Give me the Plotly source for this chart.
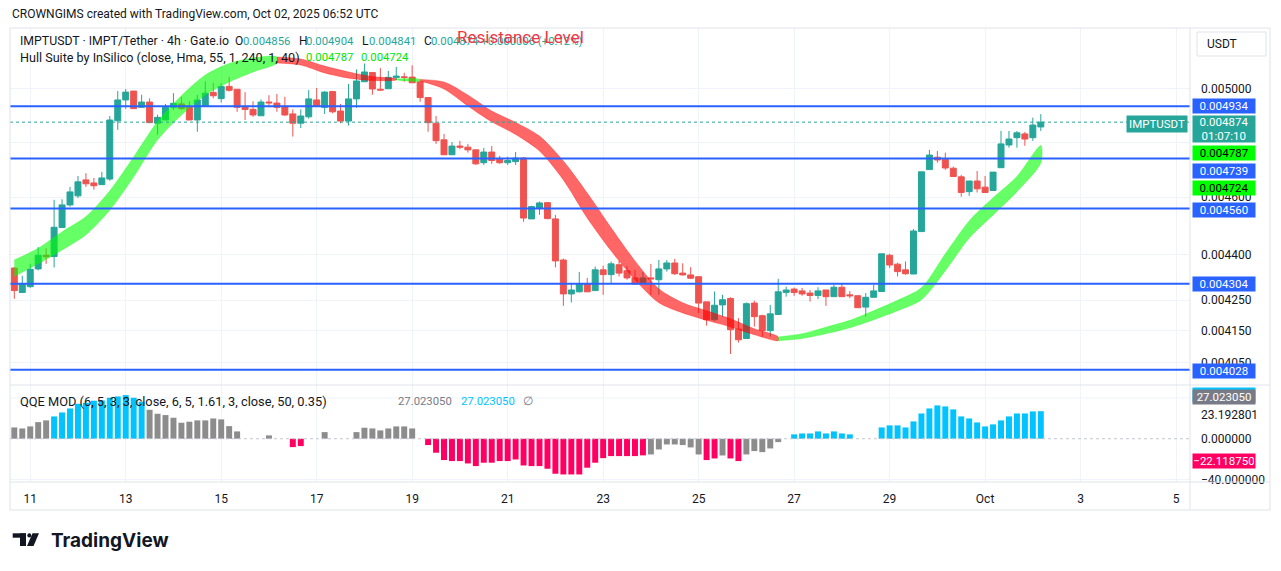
import plotly.graph_objects as go
import pandas as pd

# ------------------------------------------------------------------ data
candle_start = "2025-09-10 16:00"   # first 4h bar on the chart
opens = [0.004356, 0.004275, 0.004294, 0.004353, 0.004399, 0.004395, 0.004494, 0.004573, 0.004605, 0.004662,
         0.004651, 0.004645, 0.004665, 0.004879, 0.004958, 0.004992, 0.004930, 0.004950, 0.004870, 0.004882,
         0.004930, 0.004943, 0.004930, 0.004882, 0.004936, 0.004987, 0.004963, 0.005010, 0.004999, 0.004930,
         0.004922, 0.004898, 0.004950, 0.004946, 0.004934, 0.004905, 0.004870, 0.004894, 0.004958, 0.004930,
         0.004990, 0.004916, 0.004878, 0.004962, 0.005028, 0.005064, 0.004999, 0.005001, 0.005044, 0.005047,
         0.005046, 0.005028, 0.004967, 0.004870, 0.004808, 0.004753, 0.004785, 0.004781, 0.004771, 0.004724,
         0.004763, 0.004737, 0.004724, 0.004728, 0.004741, 0.004524, 0.004562, 0.004581, 0.004524, 0.004383,
         0.004270, 0.004277, 0.004303, 0.004281, 0.004350, 0.004334, 0.004367, 0.004347, 0.004323, 0.004306,
         0.004323, 0.004317, 0.004353, 0.004373, 0.004339, 0.004333, 0.004327, 0.004244, 0.004186, 0.004234,
         0.004255, 0.004156, 0.004126, 0.004240, 0.004199, 0.004151, 0.004203, 0.004275, 0.004286, 0.004280,
         0.004273, 0.004265, 0.004283, 0.004261, 0.004292, 0.004267, 0.004264, 0.004227, 0.004259, 0.004278,
         0.004399, 0.004369, 0.004350, 0.004336, 0.004480, 0.004699, 0.004744, 0.004737, 0.004704, 0.004673,
         0.004620, 0.004658, 0.004636, 0.004624, 0.004706, 0.004789, 0.004816, 0.004830, 0.004816, 0.004856]
highs = [0.004359, 0.004330, 0.004370, 0.004427, 0.004423, 0.004591, 0.004593, 0.004637, 0.004676, 0.004686,
         0.004669, 0.004691, 0.004897, 0.004992, 0.005000, 0.004992, 0.004978, 0.004964, 0.004902, 0.004943,
         0.004984, 0.004970, 0.004953, 0.004978, 0.005030, 0.005024, 0.005022, 0.005047, 0.004999, 0.004988,
         0.004953, 0.004960, 0.004976, 0.004981, 0.004970, 0.004922, 0.004922, 0.004996, 0.005004, 0.004992,
         0.004992, 0.004943, 0.005019, 0.005076, 0.005099, 0.005064, 0.005081, 0.005070, 0.005086, 0.005063,
         0.005092, 0.005028, 0.004967, 0.004897, 0.004830, 0.004800, 0.004804, 0.004793, 0.004773, 0.004778,
         0.004785, 0.004749, 0.004746, 0.004763, 0.004745, 0.004570, 0.004585, 0.004583, 0.004538, 0.004388,
         0.004306, 0.004343, 0.004323, 0.004361, 0.004364, 0.004378, 0.004380, 0.004363, 0.004350, 0.004343,
         0.004370, 0.004383, 0.004383, 0.004387, 0.004372, 0.004359, 0.004327, 0.004244, 0.004278, 0.004267,
         0.004259, 0.004191, 0.004242, 0.004248, 0.004202, 0.004234, 0.004320, 0.004294, 0.004291, 0.004290,
         0.004283, 0.004292, 0.004283, 0.004301, 0.004306, 0.004279, 0.004267, 0.004273, 0.004300, 0.004404,
         0.004404, 0.004374, 0.004378, 0.004489, 0.004691, 0.004771, 0.004767, 0.004761, 0.004710, 0.004680,
         0.004658, 0.004694, 0.004676, 0.004690, 0.004841, 0.004841, 0.004841, 0.004837, 0.004891, 0.004904]
lows = [0.004254, 0.004274, 0.004290, 0.004348, 0.004370, 0.004358, 0.004494, 0.004567, 0.004597, 0.004637,
        0.004627, 0.004645, 0.004659, 0.004845, 0.004924, 0.004925, 0.004930, 0.004872, 0.004827, 0.004882,
        0.004920, 0.004920, 0.004882, 0.004838, 0.004932, 0.004964, 0.004948, 0.004990, 0.004913, 0.004882,
        0.004894, 0.004898, 0.004930, 0.004913, 0.004897, 0.004820, 0.004852, 0.004887, 0.004935, 0.004905,
        0.004907, 0.004870, 0.004861, 0.004928, 0.005028, 0.004978, 0.004993, 0.005001, 0.005035, 0.005028,
        0.005024, 0.004951, 0.004838, 0.004793, 0.004753, 0.004753, 0.004773, 0.004761, 0.004716, 0.004716,
        0.004720, 0.004720, 0.004716, 0.004716, 0.004514, 0.004524, 0.004538, 0.004523, 0.004358, 0.004231,
        0.004242, 0.004275, 0.004277, 0.004281, 0.004267, 0.004306, 0.004328, 0.004317, 0.004300, 0.004306,
        0.004267, 0.004267, 0.004344, 0.004333, 0.004331, 0.004319, 0.004207, 0.004167, 0.004182, 0.004196,
        0.004077, 0.004113, 0.004126, 0.004164, 0.004132, 0.004132, 0.004203, 0.004261, 0.004264, 0.004264,
        0.004245, 0.004253, 0.004231, 0.004261, 0.004261, 0.004256, 0.004225, 0.004196, 0.004259, 0.004278,
        0.004356, 0.004328, 0.004333, 0.004336, 0.004480, 0.004699, 0.004724, 0.004698, 0.004674, 0.004602,
        0.004605, 0.004617, 0.004617, 0.004624, 0.004706, 0.004779, 0.004779, 0.004786, 0.004804, 0.004841]
closes = [0.004281, 0.004303, 0.004352, 0.004399, 0.004394, 0.004495, 0.004573, 0.004619, 0.004655, 0.004648,
          0.004641, 0.004669, 0.004882, 0.004958, 0.004988, 0.004925, 0.004950, 0.004872, 0.004892, 0.004930,
          0.004945, 0.004925, 0.004882, 0.004958, 0.004984, 0.004974, 0.005010, 0.004995, 0.004930, 0.004922,
          0.004901, 0.004950, 0.004947, 0.004930, 0.004901, 0.004870, 0.004897, 0.004962, 0.004935, 0.004988,
          0.004913, 0.004878, 0.004962, 0.005031, 0.005066, 0.005000, 0.004996, 0.005045, 0.005050, 0.005045,
          0.005024, 0.004967, 0.004872, 0.004805, 0.004753, 0.004785, 0.004781, 0.004771, 0.004720, 0.004763,
          0.004732, 0.004724, 0.004732, 0.004741, 0.004527, 0.004567, 0.004580, 0.004525, 0.004380, 0.004270,
          0.004283, 0.004302, 0.004277, 0.004350, 0.004334, 0.004370, 0.004339, 0.004323, 0.004303, 0.004323,
          0.004320, 0.004353, 0.004373, 0.004337, 0.004333, 0.004322, 0.004240, 0.004186, 0.004233, 0.004251,
          0.004154, 0.004122, 0.004238, 0.004196, 0.004151, 0.004205, 0.004277, 0.004283, 0.004275, 0.004270,
          0.004265, 0.004280, 0.004261, 0.004292, 0.004261, 0.004264, 0.004225, 0.004259, 0.004280, 0.004404,
          0.004366, 0.004344, 0.004337, 0.004482, 0.004691, 0.004752, 0.004734, 0.004705, 0.004674, 0.004617,
          0.004658, 0.004630, 0.004617, 0.004690, 0.004793, 0.004811, 0.004834, 0.004811, 0.004863, 0.004874]

# Hull Suite (MHULL and its 2-bar-lagged SHULL), read every 3rd bar
hull_main = [0.004383, 0.004423, 0.004479, 0.004532, 0.004623, 0.004745, 0.004876, 0.004974, 0.005054, 0.005099,
             0.005121, 0.005125, 0.005093, 0.005062, 0.005042, 0.005033, 0.005035, 0.005037, 0.005000, 0.004935,
             0.004875, 0.004828, 0.004767, 0.004662, 0.004527, 0.004414, 0.004317, 0.004241, 0.004208, 0.004184,
             0.004163, 0.004138, 0.004119, 0.004141, 0.004162, 0.004184, 0.004215, 0.004249, 0.004290, 0.004404,
             0.004517, 0.004598, 0.004674, 0.004787]
hull_lag = [0.004328, 0.004370, 0.004417, 0.004469, 0.004555, 0.004673, 0.004808, 0.004901, 0.004977, 0.005027,
            0.005066, 0.005101, 0.005117, 0.005089, 0.005066, 0.005048, 0.005039, 0.005031, 0.005027, 0.004977,
            0.004916, 0.004873, 0.004822, 0.004730, 0.004615, 0.004493, 0.004380, 0.004287, 0.004241, 0.004215,
            0.004189, 0.004157, 0.004131, 0.004126, 0.004141, 0.004160, 0.004186, 0.004215, 0.004251, 0.004347,
            0.004458, 0.004538, 0.004620, 0.004724]
hull_every = 3

# QQE MOD histogram and its state (u = above upper band, d = below lower band, n = neutral)
qqe_hist = [11.1, 10.1, 12.1, 16.3, 18.0, 21.9, 25.8, 29.7, 34.3, 35.3, 37.3, 37.6, 40.2, 41.5, 42.8, 40.2, 36.3,
            28.4, 24.5, 23.2, 20.6, 15.7, 16.7, 18.0, 18.0, 19.9, 19.0, 12.4, 7.2, 0, 0, 0, 3.3, 0, 0,
            -8.2, -7.2, 0, 0, 6.5, 0, 0, 0, 6.5, 10.8, 10.1, 8.2, 10.1, 12.1, 12.1, 10.1, 0,
            -6.2, -13.7, -20.9, -21.9, -21.9, -24.2, -26.8, -23.5, -23.5, -21.9, -21.9, -20.3, -26.2, -26.8,
            -26.8, -29.4, -34.3, -35.0, -35.0, -35.0, -28.4, -23.5, -19.0, -17.0, -17.0, -17.0, -17.0, -16.3,
            -15.4, -10.5, -5.6, -5.6, -6.2, -8.5, -15.4, -20.9, -19.3, -16.4, -19.3, -21.9, -15.4, -12.1, -13.1,
            -9.5, -3.3, 0, 4.3, 5.2, 5.2, 7.2, 5.2, 7.2, 5.2, 4.3, 0, 0, 0,
            11.1, 13.1, 13.1, 11.1, 17.0, 24.8, 29.7, 32.7, 31.7, 28.8, 21.9, 19.9, 16.0, 12.1, 14.1, 18.0,
            21.9, 24.8, 24.8, 26.8, 27.02305]
qqe_state = ("nnnnn" "uuuuuuuuuuuu" "nnnnnnnnnnnn" "nnn" "n" "nn" "dd" "nn" "n" "nnn" "nnnnnnnn" "n"
             "dddddddddddddddddddddddddddd" "nnnnnnn" "dd" "n" "dd" "nnnnn" "n" "uuuuuuuu" "nnn"
             "uuuuuuuuuuuuuuuuuuuuu")

levels = [0.004934, 0.004739, 0.004560, 0.004304, 0.004028]
price_ticks = [0.005, 0.0048, 0.0046, 0.0044, 0.00425, 0.00415, 0.00405]
price_tick_text = ["0.005000", "", "0.004600", "0.004400", "0.004250", "0.004150", "0.004050"]
qqe_ticks = [40, 23.192801, 0, -40]
qqe_tick_text = ["", "23.192801", "0.000000", "\u221240.000000"]
date_ticks = ["2025-09-11", "2025-09-13", "2025-09-15", "2025-09-17", "2025-09-19", "2025-09-21",
              "2025-09-23", "2025-09-25", "2025-09-27", "2025-09-29", "2025-10-01", "2025-10-03", "2025-10-05"]
date_tick_text = ["11", "13", "15", "17", "19", "21", "23", "25", "27", "29", "Oct", "3", "5"]
x_view = ["2025-09-10 13:50", "2025-10-05 07:00"]

# ------------------------------------------------------------------ styles
FONT = "Roboto"
TXT = "#131722"
UP, DOWN = "#26a69a", "#ef5350"
BLUE = "#2962ff"
GRID = "#f0f3fa"
FRAME = "#e0e3eb"
LIME = "#00ff00"
QQE_COL = {"u": "#00c3ff", "d": "#ff0062", "n": "#8c8c8c"}

W, H = 1281, 571
L, R, T, B = 10, 1190, 28, 482          # plot area in pixels
SPLIT = 385                             # pane separator


def PX(px):
    return (px - L) / (R - L)


def PY(py):
    return (B - py) / (B - T)


times = pd.date_range(candle_start, periods=len(opens), freq="4h")
hull_times = list(times[::hull_every])

fig = go.Figure()

# Hull band, coloured by direction (segment takes colour of its end point)
upper = [max(a, b) for a, b in zip(hull_main, hull_lag)]
lower = [min(a, b) for a, b in zip(hull_main, hull_lag)]
trend = ["g" if a > b else "r" for a, b in zip(hull_main, hull_lag)]
start = 0
for k in range(1, len(upper)):
    if k == len(upper) - 1 or trend[k + 1] != trend[k]:
        xs = hull_times[start:k + 1]
        col = "rgba(0,255,0,0.6)" if trend[k] == "g" else "rgba(255,0,0,0.6)"
        fig.add_trace(go.Scatter(
            x=xs + xs[::-1], y=upper[start:k + 1] + lower[start:k + 1][::-1],
            fill="toself", fillcolor=col, mode="lines",
            line=dict(color=col, width=0.5, shape="spline", smoothing=0.8),
            hoverinfo="skip", showlegend=False))
        start = k

# last price dotted line
fig.add_trace(go.Scatter(x=x_view, y=[closes[-1]] * 2, mode="lines",
                         line=dict(color=UP, width=1, dash="dot"), hoverinfo="skip", showlegend=False))

fig.add_trace(go.Candlestick(
    x=times, open=opens, high=highs, low=lows, close=closes,
    increasing=dict(line=dict(color=UP, width=1), fillcolor=UP),
    decreasing=dict(line=dict(color=DOWN, width=1), fillcolor=DOWN),
    whiskerwidth=0, hoverinfo="skip", showlegend=False))

# horizontal support / resistance lines
for lv in levels:
    fig.add_trace(go.Scatter(x=x_view, y=[lv, lv], mode="lines", line=dict(color=BLUE, width=2),
                             hoverinfo="skip", showlegend=False))

# QQE histogram
fig.add_trace(go.Bar(x=times, y=qqe_hist, yaxis="y2",
                     marker=dict(color=[QQE_COL[s] for s in qqe_state], line=dict(width=0)),
                     hoverinfo="skip", showlegend=False))

# ------------------------------------------------------------------ annotations
ann = []


def text(t, px, py, size=12, color=TXT, xanchor="left", **kw):
    ann.append(dict(text=t, x=PX(px), y=PY(py), xref="paper", yref="paper", xanchor=xanchor,
                    yanchor="middle", showarrow=False,
                    font=dict(family=FONT, size=size, color=color), **kw))


def box(t, py, bg, color="white", h=12):
    ann.append(dict(text=t, x=PX(1192), y=PY(py), xref="paper", yref="paper", xanchor="left",
                    yanchor="middle", showarrow=False, bgcolor=bg, width=60, height=h, borderpad=1,
                    align="center", font=dict(family=FONT, size=11.5, color=color)))


text("CROWNGIMS created with TradingView.com, Oct 02, 2025 06:52 UTC", 10, 14, size=12)
text("IMPTUSDT \u00b7 IMPT/Tether \u00b7 4h \u00b7 Gate.io", 18, 41, size=12.3)
text("O", 232.5, 41)
text(f"{opens[-1]:.6f}", 241, 41, size=11.3, color=UP)
text("H", 296.5, 41)
text(f"{highs[-1]:.6f}", 304, 41, size=11.3, color=UP)
text("L", 360, 41)
text(f"{lows[-1]:.6f}", 366.5, 41, size=11.3, color=UP)
text("C", 421.5, 41)
text(f"{closes[-1]:.6f} +0.000006 (+0.12%)", 428.5, 41, size=11.3, color=UP)
text("Resistance Level", 455, 37, size=17, color="#f23645")
text("Hull Suite by InSilico (close, Hma, 55, 1, 240, 1, 40)", 18, 58, size=12.6)
text(f"{hull_main[-1]:.6f}", 304, 58, size=11.3, color="#00e600")
text(f"{hull_lag[-1]:.6f}", 359, 58, size=11.3, color="#00e600")
text("QQE MOD (6, 5, 3, 3, close, 6, 5, 1.61, 3, close, 50, 0.35)", 18, 401, size=12.8)
text(f"{qqe_hist[-1]:.6f}", 396, 401, size=11.3, color="#787b86")
text(f"{qqe_hist[-1]:.6f}", 459, 401, size=11.3, color="#00c3ff")
text("\u2205", 521, 401, color="#787b86")

# price-scale labels
box(f"{levels[0]:.6f}", 105.8, BLUE)
box(f"{closes[-1]:.6f}<br>01:07:10", 129, UP, h=24)
box(f"{hull_main[-1]:.6f}", 153.3, LIME, color="black")
box(f"{levels[1]:.6f}", 170.5, BLUE)
box(f"{hull_lag[-1]:.6f}", 188, LIME, color="black")
box(f"{levels[2]:.6f}", 209.5, BLUE)
box(f"{levels[3]:.6f}", 284, BLUE)
box(f"{levels[4]:.6f}", 370.5, BLUE)
box(f"{qqe_hist[-1]:.6f}", 394.7, "#00c3ff")
box(f"{qqe_hist[-1]:.6f}", 396.7, "#787b86")
box("\u221222.118750", 461, "#ff0062")
ann.append(dict(text="IMPTUSDT", x=PX(1188), y=PY(123.7), xref="paper", yref="paper", xanchor="right",
                yanchor="middle", showarrow=False, bgcolor=UP, height=12, borderpad=2,
                font=dict(family=FONT, size=11.5, color="white")))
text("USDT", 1205, 44, size=12)
ann.append(dict(text="TradingView", x=PX(49), y=PY(540), xref="paper", yref="paper", xanchor="left",
                yanchor="middle", showarrow=False,
                font=dict(family="Inter", size=19, color=TXT, weight="bold")))

# ------------------------------------------------------------------ shapes (frame, grid, logo)
shapes = []


def pline(x0, y0, x1, y1, color=FRAME, width=1):
    shapes.append(dict(type="line", xref="paper", yref="paper", x0=PX(x0), y0=PY(y0), x1=PX(x1),
                       y1=PY(y1), line=dict(color=color, width=width)))


pline(10, 28, 1270, 28)
pline(10, 28, 10, 510)
pline(1270, 28, 1270, 510)
pline(10, 510, 1270, 510)
pline(1190, 28, 1190, 510)
pline(10, SPLIT, 1270, SPLIT)
pline(10, 482, 1270, 482)
for v in (40, -40):
    shapes.append(dict(type="line", xref="paper", yref="y2", x0=0, x1=1, y0=v, y1=v,
                       line=dict(color=GRID, width=1), layer="below"))
shapes.append(dict(type="line", xref="paper", yref="y2", x0=0, x1=1, y0=0, y1=0,
                   line=dict(color="#c4c7d0", width=1, dash="dot")))
shapes.append(dict(type="rect", xref="paper", yref="paper", x0=PX(1197), x1=PX(1266), y0=PY(56), y1=PY(32),
                   line=dict(color=FRAME, width=1), fillcolor="rgba(0,0,0,0)"))
# TradingView logo mark
shapes.append(dict(type="rect", xref="paper", yref="paper", x0=PX(12.7), x1=PX(26), y0=PY(537.7), y1=PY(533.3),
                   line=dict(width=0), fillcolor=TXT))
shapes.append(dict(type="rect", xref="paper", yref="paper", x0=PX(20), x1=PX(26), y0=PY(546), y1=PY(533.3),
                   line=dict(width=0), fillcolor=TXT))
shapes.append(dict(type="circle", xref="paper", yref="paper", x0=PX(27.3), x1=PX(31.3), y0=PY(537.5),
                   y1=PY(533.3), line=dict(width=0), fillcolor=TXT))
shapes.append(dict(type="path", xref="paper", yref="paper",
                   path=f"M {PX(32.5)} {PY(533.3)} L {PX(39)} {PY(533.3)} L {PX(33.5)} {PY(546)} "
                        f"L {PX(27)} {PY(546)} Z", line=dict(width=0), fillcolor=TXT))

dom_split = PY(SPLIT)
fig.update_layout(
    width=W, height=H, margin=dict(l=L, r=W - R, t=T, b=H - B),
    paper_bgcolor="white", plot_bgcolor="white",
    font=dict(family=FONT, size=12, color=TXT),
    showlegend=False, boxgap=0.25, boxgroupgap=0, bargap=0.25,
    annotations=ann, shapes=shapes,
    xaxis=dict(type="date", range=x_view, anchor="y2", rangeslider=dict(visible=False),
               tickvals=date_ticks, ticktext=date_tick_text, showgrid=True, gridcolor=GRID,
               ticks="", ticklabelstandoff=8, tickfont=dict(size=12, color=TXT), zeroline=False,
               showline=False),
    yaxis=dict(type="log", domain=[dom_split, 1], range=[-2.40003, -2.28063], side="right",
               tickvals=price_ticks, ticktext=price_tick_text, showgrid=True, gridcolor=GRID,
               ticks="", ticklabelstandoff=10, tickfont=dict(size=12, color=TXT), zeroline=False),
    yaxis2=dict(domain=[0, dom_split], range=[-42.4, 52.7], side="right", anchor="x",
                tickvals=qqe_ticks, ticktext=qqe_tick_text, showgrid=False,
                ticks="", ticklabelstandoff=10, tickfont=dict(size=12, color=TXT), zeroline=False),
)

fig.write_html("out.html")
